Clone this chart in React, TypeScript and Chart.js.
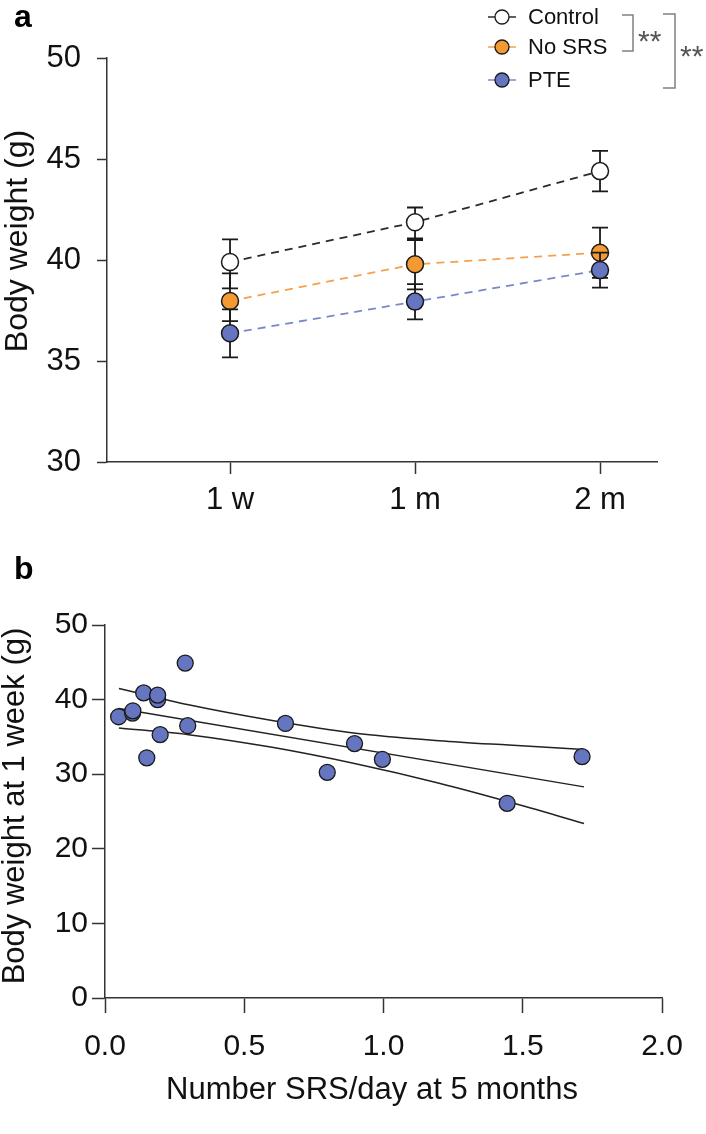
import React, { useEffect, useRef } from "react";
import { Chart, registerables } from "chart.js";

Chart.register(...registerables);

// ---------- Panel a data ----------
const timeLabels = ["1 w", "1 m", "2 m"];
const controlMean = [39.9, 41.87, 44.4];
const controlErrUp = [1.12, 0.73, 1.0];
const controlErrDown = [1.3, 0.8, 1.0];
const noSrsMean = [37.97, 39.79, 40.36];
const noSrsErrUp = [1.37, 1.2, 1.24];
const noSrsErrDown = [1.0, 1.24, 1.24];
const pteMean = [36.37, 37.94, 39.5];
const pteErrUp = [1.19, 0.87, 0.87];
const pteErrDown = [1.19, 0.88, 0.87];
const weightTicksA = [30, 35, 40, 45, 50];
const legendLabels = ["Control", "No SRS", "PTE"];
const sigLabels = ["**", "**"];
const yTitleA = "Body weight (g)";

// ---------- Panel b data ----------
const srsPerDay = [0.049, 0.099, 0.1, 0.139, 0.15, 0.189, 0.189, 0.198, 0.288, 0.297, 0.648, 0.798, 0.896, 0.996, 1.444, 1.713];
const weight1w = [37.7, 38.2, 38.5, 40.9, 32.2, 40.0, 40.6, 35.3, 44.9, 36.5, 36.8, 30.25, 34.1, 32.0, 26.1, 32.35];
const fitX = [0.05, 1.72];
const fitY = [38.8, 28.3];
const ciX = [0.05, 0.3, 0.6, 0.9, 1.2, 1.45, 1.72];
const ciUpper = [41.5, 39.3, 37.2, 35.5, 34.5, 33.9, 33.3];
const ciLower = [36.2, 35.3, 33.6, 31.4, 28.8, 26.3, 23.4];
const xTicksB = [0, 0.5, 1, 1.5, 2];
const yTicksB = [0, 10, 20, 30, 40, 50];
const yTitleB = "Body weight at 1 week (g)";
const xTitleB = "Number SRS/day at 5 months";

const FONT = "'Liberation Sans', Arial, Helvetica, sans-serif";
const AXIS = "#333333";
const ORANGE = "#F39A33";
const BLUE = "#6675BF";

const errorBarPlugin = {
  id: "errbars",
  beforeDatasetDraw(chart: any, args: any) {
    const ds = chart.data.datasets[args.index];
    if (!ds.errUp) return;
    const y = chart.scales.y;
    const ctx = chart.ctx;
    ctx.save();
    ctx.strokeStyle = "#1a1a1a";
    ctx.lineWidth = 1.8;
    ctx.setLineDash([]);
    args.meta.data.forEach((pt: any, i: number) => {
      const v = ds.data[i].y;
      const yt = y.getPixelForValue(v + ds.errUp[i]);
      const yb = y.getPixelForValue(v - ds.errDown[i]);
      const x = pt.x;
      ctx.beginPath();
      ctx.moveTo(x, yt);
      ctx.lineTo(x, yb);
      ctx.moveTo(x - 8, yt);
      ctx.lineTo(x + 8, yt);
      ctx.moveTo(x - 8, yb);
      ctx.lineTo(x + 8, yb);
      ctx.stroke();
    });
    ctx.restore();
  },
};

function drawText(ctx: any, text: string, x: number, y: number, size: number, rotate: boolean) {
  ctx.save();
  ctx.translate(x, y);
  if (rotate) ctx.rotate(-Math.PI / 2);
  ctx.font = `${size}px ${FONT}`;
  ctx.fillStyle = "#111";
  ctx.textAlign = "center";
  ctx.textBaseline = "middle";
  ctx.fillText(text, 0, 0);
  ctx.restore();
}

const legendPlugin = {
  id: "legendA",
  afterDraw(chart: any) {
    const ctx = chart.ctx;
    drawText(ctx, yTitleA, 18, 241, 32, true);
    const rows = [
      { fill: "#ffffff", line: "#2b2b2b", y: 17 },
      { fill: ORANGE, line: "#F5A04E", y: 47 },
      { fill: BLUE, line: "#7B88C8", y: 80 },
    ];
    ctx.save();
    rows.forEach((r, i) => {
      ctx.strokeStyle = r.line;
      ctx.lineWidth = 1.5;
      ctx.beginPath();
      ctx.moveTo(488, r.y);
      ctx.lineTo(516, r.y);
      ctx.stroke();
      ctx.beginPath();
      ctx.arc(502, r.y, 7, 0, Math.PI * 2);
      ctx.fillStyle = r.fill;
      ctx.fill();
      ctx.strokeStyle = "#1a1a1a";
      ctx.lineWidth = 1.3;
      ctx.stroke();
      ctx.fillStyle = "#111";
      ctx.font = `22px ${FONT}`;
      ctx.textBaseline = "middle";
      ctx.textAlign = "left";
      ctx.fillText(legendLabels[i], 528, r.y + 1);
    });
    ctx.strokeStyle = "#808080";
    ctx.lineWidth = 1.5;
    ctx.beginPath();
    ctx.moveTo(622, 15);
    ctx.lineTo(633, 15);
    ctx.lineTo(633, 51);
    ctx.lineTo(622, 51);
    ctx.moveTo(663, 14);
    ctx.lineTo(675, 14);
    ctx.lineTo(675, 88);
    ctx.lineTo(663, 88);
    ctx.stroke();
    ctx.fillStyle = "#555";
    ctx.font = `30px ${FONT}`;
    ctx.textBaseline = "alphabetic";
    ctx.textAlign = "left";
    ctx.fillText(sigLabels[0], 638, 51);
    ctx.fillText(sigLabels[1], 680, 66);
    ctx.restore();
  },
};

const titlesBPlugin = {
  id: "titlesB",
  afterDraw(chart: any) {
    const ctx = chart.ctx;
    drawText(ctx, yTitleB, 15, 246, 31, true);
    drawText(ctx, xTitleB, 372, 530, 31, false);
  },
};

function makeSeries(mean: number[]) {
  return mean.map((v, i) => ({ x: i, y: v }));
}

export default function App() {
  const refA = useRef<HTMLCanvasElement>(null);
  const refB = useRef<HTMLCanvasElement>(null);

  useEffect(() => {
    const series = (fill: string, lineColor: string, mean: number[], up: number[], down: number[], order: number, label: string) => ({
      label,
      data: makeSeries(mean),
      borderColor: lineColor,
      borderDash: [8, 6],
      borderWidth: 1.8,
      pointRadius: 8.5,
      pointBackgroundColor: fill,
      pointBorderColor: "#1a1a1a",
      pointBorderWidth: 1.5,
      order,
      errUp: up,
      errDown: down,
      fill: false,
      tension: 0,
    });

    const chartA = new Chart(refA.current!, {
      type: "line",
      data: {
        datasets: [
          series("#ffffff", "#2b2b2b", controlMean, controlErrUp, controlErrDown, 3, legendLabels[0]),
          series(ORANGE, "#F5A04E", noSrsMean, noSrsErrUp, noSrsErrDown, 2, legendLabels[1]),
          series(BLUE, "#7B88C8", pteMean, pteErrUp, pteErrDown, 1, legendLabels[2]),
        ] as any,
      },
      options: {
        responsive: false,
        animation: false,
        events: [],
        layout: { padding: { top: 58, right: 49, left: 0, bottom: 0 } },
        plugins: { legend: { display: false }, tooltip: { enabled: false } },
        scales: {
          x: {
            type: "linear",
            min: -0.665,
            max: 2.308,
            afterBuildTicks: (s: any) => {
              s.ticks = timeLabels.map((_, i) => ({ value: i }));
            },
            afterFit: (s: any) => {
              s.height = 138;
            },
            ticks: {
              callback: (v: any) => timeLabels[v as number],
              font: { family: FONT, size: 31 },
              color: "#111",
              padding: 8,
              autoSkip: false,
              maxRotation: 0,
            },
            grid: { drawOnChartArea: false, drawTicks: true, tickLength: 12, tickWidth: 1.5, tickColor: AXIS },
            border: { display: true, color: AXIS, width: 1.5 },
          },
          y: {
            min: 30,
            max: 50,
            afterBuildTicks: (s: any) => {
              s.ticks = weightTicksA.map((v) => ({ value: v }));
            },
            afterFit: (s: any) => {
              s.width = 107;
            },
            ticks: { font: { family: FONT, size: 31 }, color: "#111", padding: 16 },
            grid: { drawOnChartArea: false, drawTicks: true, tickLength: 10, tickWidth: 1.5, tickColor: AXIS },
            border: { display: true, color: AXIS, width: 1.5 },
          },
        },
      } as any,
      plugins: [errorBarPlugin, legendPlugin],
    });

    const chartB = new Chart(refB.current!, {
      type: "scatter",
      data: {
        datasets: [
          {
            type: "scatter",
            data: srsPerDay.map((x, i) => ({ x, y: weight1w[i] })),
            pointRadius: 8,
            pointBackgroundColor: BLUE,
            pointBorderColor: "#1a1a1a",
            pointBorderWidth: 1.3,
            order: 0,
          },
          {
            type: "line",
            data: fitX.map((x, i) => ({ x, y: fitY[i] })),
            borderColor: "#222",
            borderWidth: 1.5,
            pointRadius: 0,
            order: 1,
          },
          {
            type: "line",
            data: ciX.map((x, i) => ({ x, y: ciUpper[i] })),
            borderColor: "#222",
            borderWidth: 1.5,
            pointRadius: 0,
            cubicInterpolationMode: "monotone",
            order: 1,
          },
          {
            type: "line",
            data: ciX.map((x, i) => ({ x, y: ciLower[i] })),
            borderColor: "#222",
            borderWidth: 1.5,
            pointRadius: 0,
            cubicInterpolationMode: "monotone",
            order: 1,
          },
        ] as any,
      },
      options: {
        responsive: false,
        animation: false,
        events: [],
        layout: { padding: { top: 65, right: 44, left: 0, bottom: 0 } },
        plugins: { legend: { display: false }, tooltip: { enabled: false } },
        scales: {
          x: {
            type: "linear",
            min: 0,
            max: 2,
            afterBuildTicks: (s: any) => {
              s.ticks = xTicksB.map((v) => ({ value: v }));
            },
            afterFit: (s: any) => {
              s.height = 136;
            },
            ticks: {
              callback: (v: any) => Number(v).toFixed(1),
              font: { family: FONT, size: 30 },
              color: "#111",
              padding: 16,
              autoSkip: false,
              maxRotation: 0,
            },
            grid: { drawOnChartArea: false, drawTicks: true, tickLength: 15, tickWidth: 1.5, tickColor: AXIS },
            border: { display: true, color: AXIS, width: 1.5 },
          },
          y: {
            min: 0,
            max: 50,
            afterBuildTicks: (s: any) => {
              s.ticks = yTicksB.map((v) => ({ value: v }));
            },
            afterFit: (s: any) => {
              s.width = 105;
            },
            ticks: { font: { family: FONT, size: 30 }, color: "#111", padding: 4 },
            grid: { drawOnChartArea: false, drawTicks: true, tickLength: 13, tickWidth: 1.5, tickColor: AXIS },
            border: { display: true, color: AXIS, width: 1.5 },
          },
        },
      } as any,
      plugins: [titlesBPlugin],
    });

    return () => {
      chartA.destroy();
      chartB.destroy();
    };
  }, []);

  const panelLabel: React.CSSProperties = {
    position: "absolute",
    fontFamily: FONT,
    fontWeight: "bold",
    fontSize: 32,
    lineHeight: "32px",
    color: "#000",
  };

  return (
    <div style={{ position: "absolute", left: 0, top: 0, width: 706, height: 1134, background: "#fff" }}>
      <canvas ref={refA} width={706} height={600} style={{ position: "absolute", left: 0, top: 0, display: "block" }} />
      <canvas ref={refB} width={706} height={574} style={{ position: "absolute", left: 0, top: 560, display: "block" }} />
      <div style={{ ...panelLabel, left: 14, top: 0 }}>a</div>
      <div style={{ ...panelLabel, left: 14, top: 552 }}>b</div>
    </div>
  );
}
